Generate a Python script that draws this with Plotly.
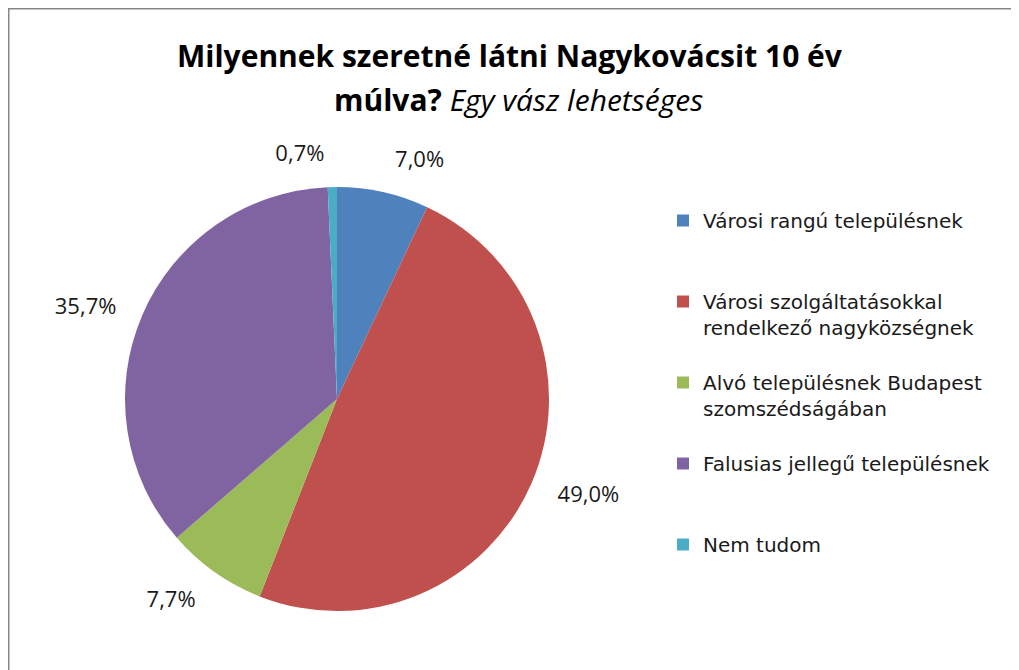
import plotly.graph_objects as go

# page has an 8px body margin; figure fills the rest of the 1019x670 window
W, H = 1011, 662

categories = [
    "Városi rangú településnek",
    "Városi szolgáltatásokkal<br>rendelkező nagyközségnek",
    "Alvó településnek Budapest<br>szomszédságában",
    "Falusias jellegű településnek",
    "Nem tudom",
]
values = [7.0, 49.0, 7.7, 35.7, 0.7]
colors = ["#4F81BD", "#C0504D", "#9BBB59", "#8064A2", "#4BACC6"]

title_line1 = "<b>Milyennek szeretné látni Nagykovácsit 10 év</b>"
title_line2 = "<b>múlva?</b> <i>Egy vász lehetséges</i>"

FONT = "Open Sans, Lato, sans-serif"
LEGEND_FONT = "DejaVu Sans, Open Sans, sans-serif"

# pad legend labels so every entry occupies three lines (even spacing)
legend_labels = []
for c in categories:
    n = c.count("<br>") + 1
    legend_labels.append(c + "<br>\u00a0" * (3 - n))

cx, cy, r = 329, 391, 212      # pie centre / radius in figure pixels
r_lab = r + 20                 # radius of the label ring


def dom(rad):
    return dict(x=[(cx - rad) / W, (cx + rad) / W],
                y=[(H - cy - rad) / H, (H - cy + rad) / H])


fig = go.Figure()
# visible pie (no text)
fig.add_trace(go.Pie(
    labels=legend_labels,
    values=values,
    sort=False,
    direction="clockwise",
    rotation=0,
    marker=dict(colors=colors, line=dict(width=0)),
    textinfo="none",
    hoverinfo="label+value",
    domain=dom(r),
))
# transparent ring that only carries the outside percentage labels
fig.add_trace(go.Pie(
    labels=legend_labels,
    values=values,
    sort=False,
    direction="clockwise",
    rotation=0,
    marker=dict(colors=["rgba(0,0,0,0)"] * len(values), line=dict(width=0)),
    textposition="outside",
    texttemplate="%{value:.1f}%",
    textfont=dict(family=FONT, size=22, color="#1a1a1a"),
    hoverinfo="skip",
    showlegend=False,
    domain=dom(r_lab),
))

fig.update_layout(
    width=W, height=H,
    margin=dict(l=0, r=0, t=0, b=0),
    paper_bgcolor="white",
    plot_bgcolor="white",
    separators=", ",
    showlegend=True,
    legend=dict(
        x=655 / W, xanchor="left",
        y=1 - 193 / H, yanchor="top",
        font=dict(family=LEGEND_FONT, size=20, color="#1a1a1a"),
        valign="top",
        bgcolor="rgba(0,0,0,0)",
    ),
    annotations=[
        dict(text=title_line1, x=502 / W, y=1 - 47 / H, xref="paper", yref="paper",
             xanchor="center", yanchor="middle", showarrow=False,
             font=dict(family=FONT, size=30, color="black")),
        dict(text=title_line2, x=510 / W, y=1 - 91 / H, xref="paper", yref="paper",
             xanchor="center", yanchor="middle", showarrow=False,
             font=dict(family=FONT, size=30, color="black")),
    ],
    shapes=[
        dict(type="line", xref="paper", yref="paper", x0=0, x1=0,
             y0=0, y1=1, line=dict(color="#868686", width=3)),
        dict(type="line", xref="paper", yref="paper", x0=0, x1=1,
             y0=1, y1=1, line=dict(color="#868686", width=3)),
    ],
)

fig.write_html("out.html")
